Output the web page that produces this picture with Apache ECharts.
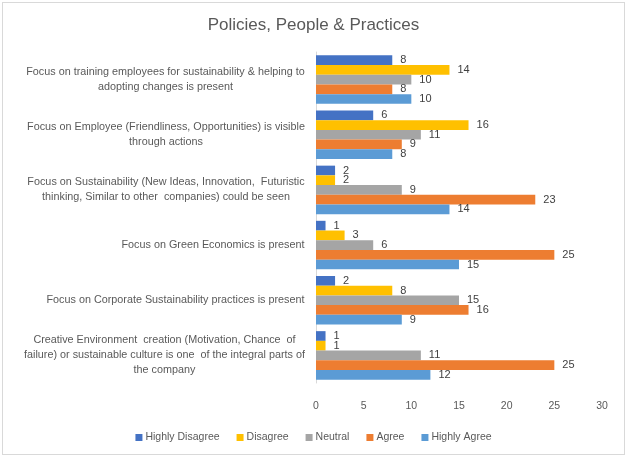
<!DOCTYPE html>
<html><head><meta charset="utf-8">
<script src="https://cdn.jsdelivr.net/npm/echarts@6/dist/echarts.min.js"></script>
<style>html,body{margin:0;padding:0;background:#fff}#c{position:absolute;left:2px;top:2px;width:623px;height:453px;border:1px solid #d9d9d9;box-sizing:border-box}</style>
</head><body><div id="c"></div>
<script>
// Categories top to bottom
const categories = [
  "Focus on training employees for sustainability & helping to\nadopting changes is present",
  "Focus on Employee (Friendliness, Opportunities) is visible\nthrough actions",
  "Focus on Sustainability (New Ideas, Innovation,  Futuristic\nthinking, Similar to other  companies) could be seen",
  "Focus on Green Economics is present",
  "Focus on Corporate Sustainability practices is present",
  "Creative Environment  creation (Motivation, Chance  of\nfailure) or sustainable culture is one  of the integral parts of\nthe company"
];
const seriesNames = ["Highly Disagree", "Disagree", "Neutral", "Agree", "Highly Agree"];
const highlyDisagree = [8, 6, 2, 1, 2, 1];
const disagree = [14, 16, 2, 3, 8, 1];
const neutral = [10, 11, 9, 6, 15, 11];
const agree = [8, 9, 23, 25, 16, 25];
const highlyAgree = [10, 8, 14, 15, 9, 12];
const xTicks = [0, 5, 10, 15, 20, 25, 30];

const colors = ["#4472C4", "#FFC000", "#A5A5A5", "#ED7D31", "#5B9BD5"];
const values = [highlyDisagree, disagree, neutral, agree, highlyAgree];
const labelFont = "10.8px 'Liberation Sans'";

// measure widths for centered multi-line labels that are right-aligned as a block
const cv = document.createElement('canvas').getContext('2d');
cv.font = labelFont;
const rich = {};
categories.forEach((c, i) => {
  const w = Math.max(...c.split('\n').map(l => cv.measureText(l).width));
  rich['l' + i] = { width: Math.ceil(w), align: 'center', fontSize: 10.8, fontFamily: 'Liberation Sans', color: '#595959', lineHeight: 15 };
});

const chart = echarts.init(document.getElementById('c'));
chart.setOption({
  animation: false,
  color: colors,
  title: { text: "Policies, People & Practices", left: 'center', top: 9,
    textStyle: { fontFamily: 'Liberation Sans', fontSize: 17, fontWeight: 'normal', color: '#595959' } },
  legend: { bottom: 6, left: 'center', itemWidth: 7, itemHeight: 7, itemGap: 17, icon: 'rect',
    textStyle: { fontFamily: 'Liberation Sans', fontSize: 10.5, color: '#595959', padding: [0, 0, 0, -2] },
    data: seriesNames },
  grid: { left: 313, right: 22, top: 49, bottom: 71 },
  xAxis: { type: 'value', min: 0, max: 30, interval: 5,
    splitLine: { show: false }, axisLine: { show: false }, axisTick: { show: false },
    axisLabel: { fontFamily: 'Liberation Sans', fontSize: 10.5, color: '#595959', margin: 18,
      formatter: v => xTicks.includes(v) ? String(v) : '' } },
  yAxis: { type: 'category', inverse: true, data: categories,
    axisLine: { show: true, lineStyle: { color: '#d9d9d9' } }, axisTick: { show: false },
    axisLabel: { margin: 11, align: 'right',
      formatter: (v, i) => v.split('\n').map(l => '{l' + i + '|' + l + '}').join('\n'),
      rich: rich } },
  series: seriesNames.map((n, k) => ({
    name: n, type: 'bar', data: values[k], barGap: '0%', barCategoryGap: '12%',
    label: { show: true, position: 'right', distance: 8, fontFamily: 'Liberation Sans', fontSize: 11, color: '#404040' }
  }))
});
</script></body></html>
